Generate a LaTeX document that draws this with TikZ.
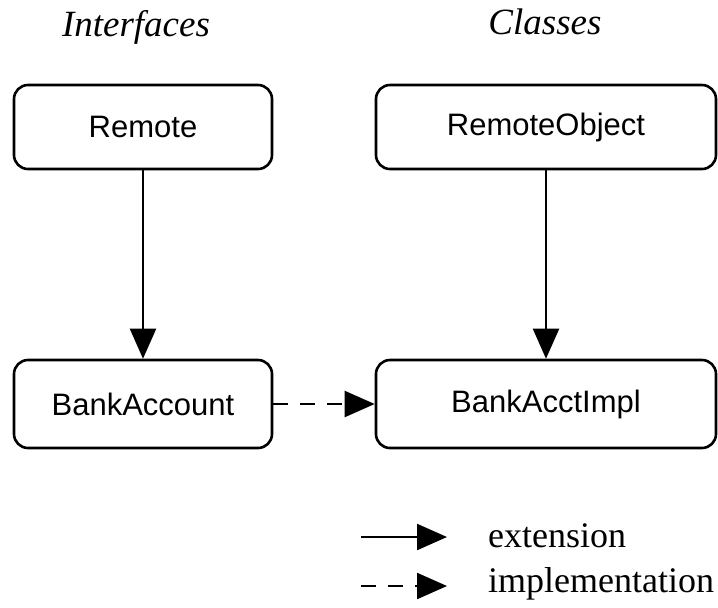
\documentclass[tikz,border=0pt]{standalone}
\usepackage{fontspec}
\setmainfont{Liberation Serif}
\newfontfamily\boxfont{Liberation Sans}
\usetikzlibrary{arrows.meta}

\begin{document}
\begin{tikzpicture}[x=0.5pt, y=-0.5pt,
    cls/.style={draw, line width=1.3pt, rounded corners=7pt, inner sep=0pt,
        font=\boxfont\fontsize{15.5}{18}\selectfont},
    head/.style={anchor=base, font=\itshape\fontsize{18.5}{22}\selectfont},
    legtext/.style={anchor=base west, font=\fontsize{18}{22}\selectfont},
    ext/.style={line width=1.1pt, -{Triangle[length=15pt, width=13pt]}},
    impl/.style={ext, dash pattern=on 7.5pt off 6pt}]
    \useasboundingbox (0,0) rectangle (718,607);

    % Column headings
    \node[head] (hif) at (136,36) {Interfaces};
    \node[head] (hcl) at (545,34) {Classes};

    % Boxes
    \node[cls, minimum width=129pt, minimum height=42pt] (remote) at (143,127) {Remote};
    \node[cls, minimum width=170pt, minimum height=42pt] (remobj) at (546,127) {RemoteObject};
    \node[cls, minimum width=129pt, minimum height=44pt] (bankacct) at (143,404) {BankAccount};
    \node[cls, minimum width=170pt, minimum height=44pt] (acctimpl) at (546,404) {BankAcctImpl};

    % Relations
    \draw[ext] (remote) -- (bankacct);
    \draw[ext] (remobj) -- (acctimpl);
    \draw[impl] (bankacct) -- (acctimpl);

    % Legend
    \coordinate (la) at (361,537);
    \coordinate (lb) at (447,537);
    \coordinate (lc) at (361,586);
    \coordinate (ld) at (447,586);
    \draw[ext] (la) -- (lb);
    \draw[impl] (lc) -- (ld);
    \node[legtext] (lext) at (481,547) {extension};
    \node[legtext] (limpl) at (481,592) {implementation};
\end{tikzpicture}
\end{document}
